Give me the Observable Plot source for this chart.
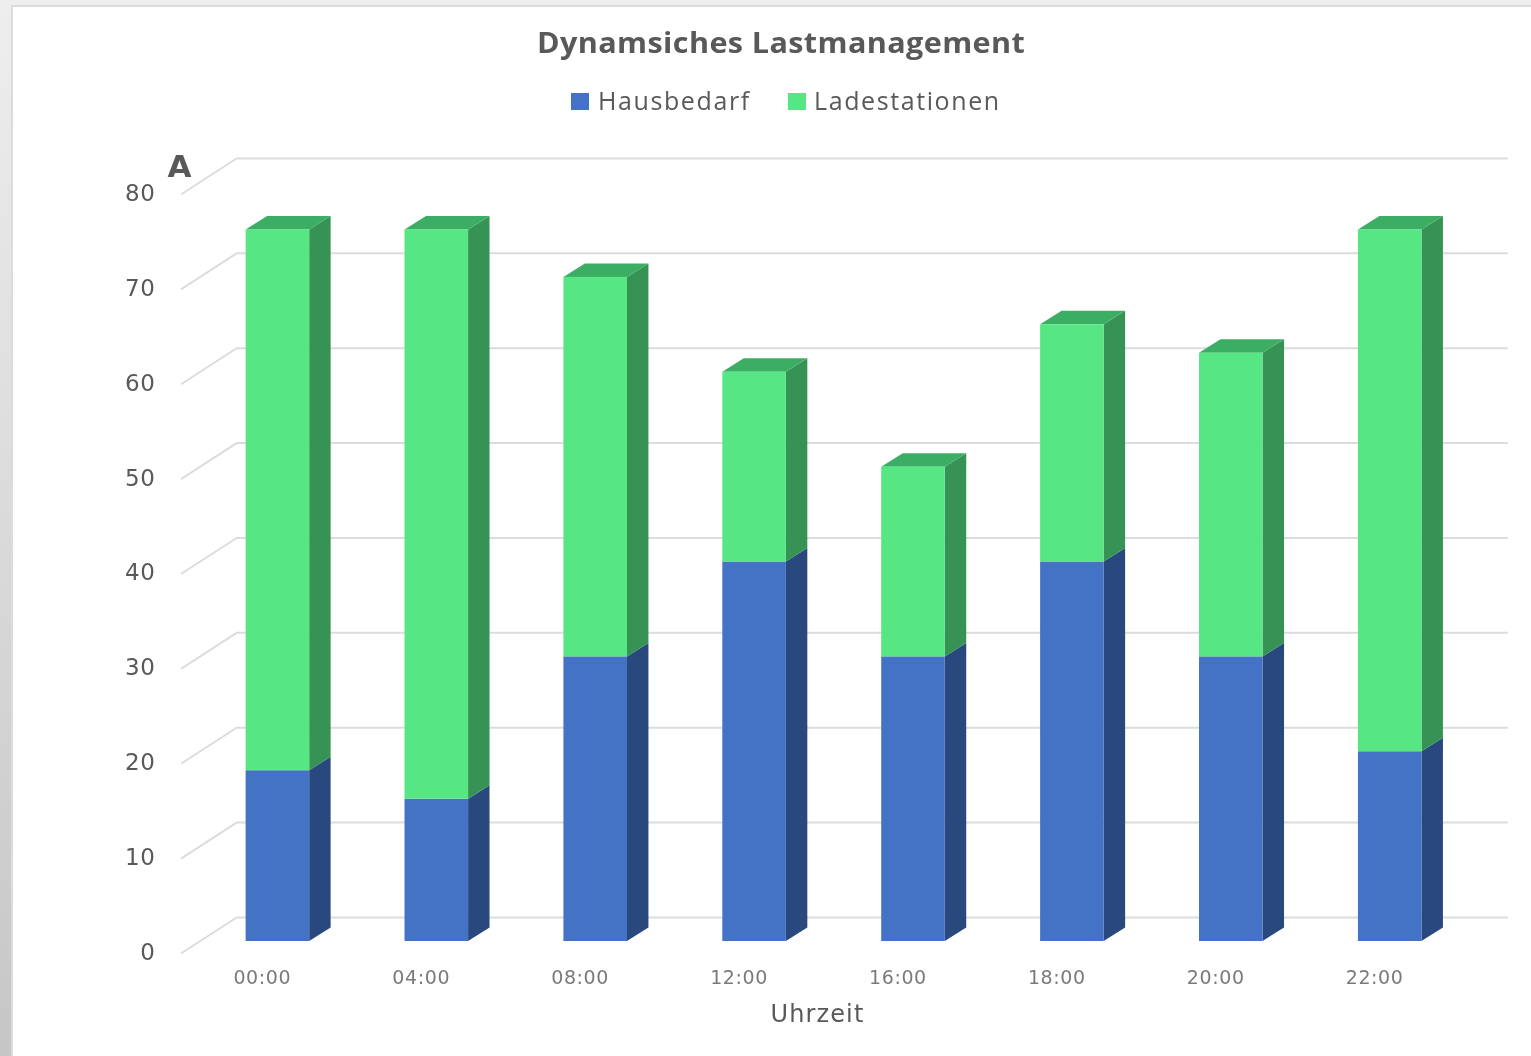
<!DOCTYPE html>
<html lang="de">
<head>
<meta charset="utf-8">
<script src="https://cdn.jsdelivr.net/npm/d3@7"></script>
<script src="https://cdn.jsdelivr.net/npm/@observablehq/plot@0.6"></script>
<style>
  html, body { margin: 0; padding: 0; width: 1531px; height: 1056px; overflow: hidden; }
  body { background: linear-gradient(to bottom, #eeeeee, #c6c6c6); position: relative; font-family: "Open Sans", sans-serif; }
  #panel { position: absolute; left: 11px; top: 5px; width: 1520px; height: 1051px; background: #fff; border-left: 2px solid #dcdcdc; border-top: 2px solid #dcdcdc; box-sizing: border-box; }
  #wrap { position: absolute; left: 0; top: 0; width: 1531px; filter: blur(0.5px); }
  #head { position: relative; height: 130px; color: #595959; }
  #title { position: absolute; left: 537px; top: 22px; font-size: 28px; line-height: 40px; font-weight: 700; white-space: nowrap; letter-spacing: .35px; transform: scaleX(1.092); transform-origin: left center; }
  .lg { position: absolute; top: 83px; font-size: 25px; line-height: 34px; white-space: nowrap; letter-spacing: 1.6px; }
  .sw { position: absolute; top: 93px; width: 18px; height: 17px; }
  svg { display: block; }
  svg g[aria-label="y-axis tick label"] text { letter-spacing: .6px; }
  svg g[aria-label="x-axis tick label"] text { letter-spacing: .6px; }
  svg g[aria-label="x-axis label"] text { letter-spacing: 1.1px; }
</style>
</head>
<body>
<div id="panel"></div>
<div id="wrap">
  <div id="head">
    <div id="title"></div>
    <span class="sw" id="sw0" style="left:571px"></span><span class="lg" id="lg0" style="left:598px"></span>
    <span class="sw" id="sw1" style="left:788px"></span><span class="lg" id="lg1" style="left:814px"></span>
  </div>
  <div id="chart"></div>
</div>
<script>
const chartTitle = "Dynamsiches Lastmanagement";
const hours = ["00:00", "04:00", "08:00", "12:00", "16:00", "18:00", "20:00", "22:00"];
const hausbedarf = [18, 15, 30, 40, 30, 40, 30, 20];
const ladestationen = [57, 60, 40, 20, 20, 25, 32, 55];
const yTicks = [0, 10, 20, 30, 40, 50, 60, 70, 80];
const seriesNames = ["Hausbedarf", "Ladestationen"];
const frontColors = ["#4472c4", "#56e684"];
const sideColors = ["#29487e", "#379355"];
const topColor = "#3cae64";

// Oblique projection expressed in scale units
const halfBar = 0.2, depthX = 0.135, depthY = 1.42;
const wallX = -0.26, wallEndX = 7.735, wallY = 2.53, floorX = -0.605, floorY = -1.21;

document.getElementById("title").textContent = chartTitle;
seriesNames.forEach((n, i) => {
  document.getElementById("lg" + i).textContent = n;
  document.getElementById("sw" + i).style.background = frontColors[i];
});

const segs = hours.map((h, i) => ({
  i, h,
  b0: 0, b1: hausbedarf[i],
  g0: hausbedarf[i], g1: hausbedarf[i] + ladestationen[i]
}));

const grid = yTicks.flatMap(v => [
  {v, x: floorX, y: v + floorY},
  {v, x: wallX, y: v + wallY},
  {v, x: wallEndX, y: v + wallY}
]);

const side = (lo, hi) => segs.flatMap(s => [
  {i: s.i, x: s.i + halfBar, y1: s[lo], y2: s[hi]},
  {i: s.i, x: s.i + halfBar + depthX, y1: s[lo] + depthY, y2: s[hi] + depthY}
]);

const tops = segs.flatMap(s => [
  {i: s.i, x: s.i - halfBar, y1: s.g1, y2: s.g1},
  {i: s.i, x: s.i - halfBar + depthX, y1: s.g1, y2: s.g1 + depthY},
  {i: s.i, x: s.i + halfBar, y1: s.g1, y2: s.g1 + depthY},
  {i: s.i, x: s.i + halfBar + depthX, y1: s.g1 + depthY, y2: s.g1 + depthY}
]);

const plot = Plot.plot({
  width: 1531,
  height: 926,
  marginLeft: 155,
  marginRight: 52,
  marginTop: 0,
  marginBottom: 86,
  style: {fontFamily: "'DejaVu Sans', sans-serif", background: "transparent", overflow: "visible"},
  x: {type: "linear", domain: [0, 7], range: [277.4, 1389.7]},
  y: {type: "linear", domain: [0, 80], range: [811, 52]},
  marks: [
    Plot.line(grid, {x: "x", y: "y", z: "v", stroke: "#dcdcdc", strokeWidth: 2}),
    Plot.area(side("b0", "b1"), {x1: "x", y1: "y1", y2: "y2", z: "i", fill: sideColors[0]}),
    Plot.area(side("g0", "g1"), {x1: "x", y1: "y1", y2: "y2", z: "i", fill: sideColors[1]}),
    Plot.area(tops, {x1: "x", y1: "y1", y2: "y2", z: "i", fill: topColor}),
    Plot.rectY(segs, {x1: d => d.i - halfBar, x2: d => d.i + halfBar, y1: "b0", y2: "b1", fill: frontColors[0]}),
    Plot.rectY(segs, {x1: d => d.i - halfBar, x2: d => d.i + halfBar, y1: "g0", y2: "g1", fill: frontColors[1]}),
    Plot.axisY(yTicks, {anchor: "left", tickSize: 0, tickPadding: 0, dy: 11, fontSize: 23, fill: "#595959", label: null}),
    Plot.axisX(hours.map((_, i) => i), {anchor: "bottom", tickSize: 0, tickPadding: 0, dx: -15.6, fontSize: 19, fill: "#7a7a7a", tickFormat: i => hours[i], label: null, lineAnchor: "top"}),
    Plot.axisX([], {anchor: "bottom", tickSize: 0, label: "Uhrzeit", labelAnchor: "center", labelArrow: "none", labelOffset: 51, fontSize: 24, fill: "#595959"}),
    Plot.text(["A"], {frameAnchor: "top-left", dx: 12, dy: 24, text: d => d, fontSize: 31, fontWeight: 700, fill: "#595959"})
  ]
});
document.getElementById("chart").append(plot);
</script>
</body>
</html>
